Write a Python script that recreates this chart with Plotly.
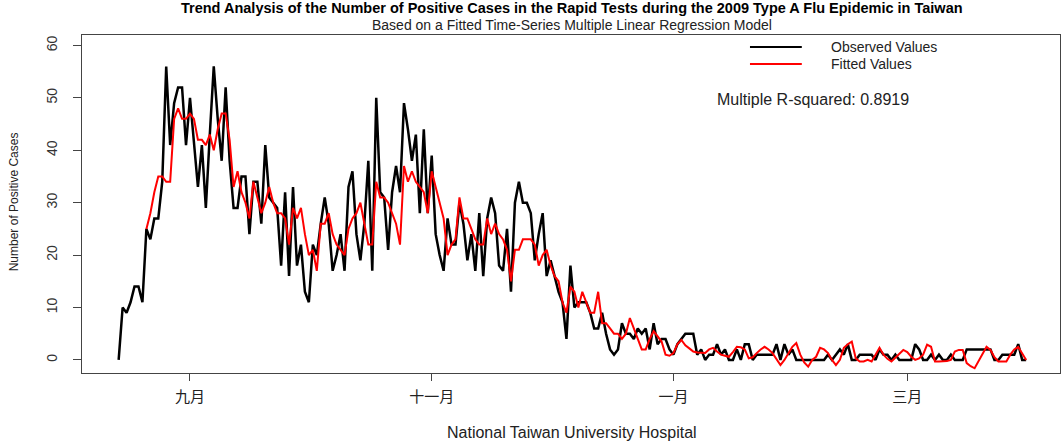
import pandas as pd
import plotly.graph_objects as go

start_date = "2009-08-14"
fitted_start_date = "2009-08-21"

observed = [
    0, 10, 9, 11, 14, 14, 11, 25, 23, 27,
    27, 34, 56, 41, 49, 52, 52, 41, 50, 42,
    33, 41, 29, 43, 56, 46, 38, 52, 38, 29,
    29, 35, 35, 24, 34, 34, 26, 41, 31, 30,
    29, 18, 32, 16, 33, 18, 22, 13, 11, 22,
    20, 26, 31, 26, 17, 20, 24, 17, 33, 36,
    24, 19, 26, 38, 17, 50, 32, 31, 21, 32,
    37, 32, 49, 44, 38, 43, 28, 44, 28, 39,
    24, 20, 17, 27, 22, 22, 30, 26, 19, 24,
    17, 28, 16, 27, 31, 28, 18, 17, 25, 13,
    30, 34, 30, 30, 28, 19, 24, 28, 16, 19,
    16, 13, 11, 4, 18, 10, 11, 11, 11, 9,
    6, 6, 9, 5, 2, 1, 2, 7, 5, 5,
    4, 6, 5, 6, 2, 7, 3, 4, 4, 2,
    1, 3, 4, 5, 5, 5, 1, 2, 0, 1,
    1, 3, 1, 2, 0, 0, 2, 0, 3, 3,
    0, 1, 1, 1, 1, 1, 3, 0, 3, 1,
    2, 0, 0, 0, 0, 0, 0, 0, 0, 1,
    0, 1, 2, 1, 3, 0, 0, 1, 1, 1,
    1, 0, 2, 1, 1, 0, 1, 0, 0, 0,
    0, 3, 2, 0, 0, 1, 0, 1, 0, 0,
    1, 0, 0, 0, 2, 2, 2, 2, 2, 2,
    2, 0, 0, 1, 1, 1, 1, 3, 0, 0,
]

fitted = [
    25, 28, 32, 35, 35, 34, 34, 46, 48, 46,
    46, 47, 46, 42, 42, 41, 43, 40, 44, 47,
    47, 42, 33, 36, 32, 30, 27, 34, 31, 28,
    30, 33, 30, 28, 28, 27, 22, 29, 27, 29,
    24, 20, 21, 17, 26, 26, 28, 24, 22, 21,
    20, 25, 27, 28, 30, 26, 22, 22, 34, 31,
    31, 30, 28, 26, 22, 37, 34, 36, 34, 33,
    32, 28, 36, 33, 30, 27, 20, 22, 23, 31,
    27, 27, 25, 23, 22, 22, 27, 24, 26, 24,
    23, 21, 15, 21, 21, 23, 23, 23, 22, 18,
    20, 21, 18, 16, 15, 11, 9, 14, 13, 10,
    13, 11, 9, 9, 13, 7, 7, 6, 5, 5,
    4, 5, 8, 6, 4, 2, 2, 4, 5.5, 4.5,
    3.5, 1, 0.8, 1.3, 3, 3.8, 2.8, 2.2, 1.6, 1.4,
    1.3, 1.3, 2, 2.3, 1.6, 1, 0.8, 0.6, 1.5, 2.5,
    2.4, 2, 0.3, 0.5, 1.3, 2, 2.5, 2, 1.3, 0.2,
    -1, 0, 1.3, 2.5, 3.2, 1, -0.5, -1.3, 0, 0.6,
    2.3, 2, 1.3, 0, -1, 0, 2.3, 3, 3.5, 0.3,
    -0.3, -0.3, 0, -0.3, 1, 2.3, 1, 0.2, -0.3, 0.5,
    1.3, 1.9, 1.5, 0.6, 0, 0.3, 1, 2.9, 2.5, -0.3,
    -0.3, -0.3, -0.2, 0, 1.6, 1.9, 1.9, -0.6, -1.2, -1.6,
    -0.3, 1, 2.5, 1.9, 0.5, -0.3, -0.3, -0.3, 1, 2,
    2.5, 1.3, 0,
]

series_names = ["Observed Values", "Fitted Values"]
series_colors = ["black", "red"]
tick_dates = ["2009-09-01", "2009-11-01", "2010-01-01", "2010-03-01"]
tick_labels = ["九月", "十一月", "一月", "三月"]
y_ticks = [0, 10, 20, 30, 40, 50, 60]

obs_dates = pd.date_range(start_date, periods=len(observed), freq="D")
fit_dates = pd.date_range(fitted_start_date, periods=len(fitted), freq="D")

FONT = "Liberation Sans, Arial, sans-serif"
CJK = "Noto Sans CJK TC, Noto Sans CJK SC, sans-serif"
AX = "#444444"
TXT = "#222222"

fig = go.Figure()
fig.add_trace(go.Scatter(x=obs_dates, y=observed, mode="lines", name=series_names[0],
                         line=dict(color=series_colors[0], width=2.5), showlegend=False))
fig.add_trace(go.Scatter(x=fit_dates, y=fitted, mode="lines", name=series_names[1],
                         line=dict(color=series_colors[1], width=2), showlegend=False))

fig.update_layout(
    width=1062, height=442,
    margin=dict(l=82, r=2, t=35, b=69),
    paper_bgcolor="white", plot_bgcolor="white",
    font=dict(family=FONT, size=13, color=TXT),
    showlegend=False,
)

fig.update_xaxes(
    type="date",
    range=["2009-08-04 18:00", "2010-04-08 13:00"],
    tickvals=tick_dates, ticktext=tick_labels,
    tickfont=dict(family=CJK, size=15, color=TXT),
    ticks="outside", ticklen=7, tickcolor=AX, tickwidth=1,
    ticklabelstandoff=3,
    showline=True, linecolor=AX, linewidth=1.3, mirror=True,
    showgrid=False, zeroline=False,
)
fig.update_yaxes(
    range=[-2.5, 62.0],
    tickvals=y_ticks, ticktext=[str(v) for v in y_ticks],
    tickangle=-90,
    tickfont=dict(family=FONT, size=14, color="#333333"),
    ticks="outside", ticklen=8, tickcolor=AX, tickwidth=1,
    ticklabelstandoff=10,
    showline=True, linecolor=AX, linewidth=1.3, mirror=True,
    showgrid=False, zeroline=False,
)

# titles
fig.add_annotation(text="<b>Trend Analysis of the Number of Positive Cases in the Rapid Tests during the 2009 Type A Flu Epidemic in Taiwan</b>",
                   xref="paper", yref="paper", x=0.501, y=1, yshift=27, xanchor="center", yanchor="middle",
                   showarrow=False, borderpad=0, font=dict(family=FONT, size=14.5, color="black"))
fig.add_annotation(text="Based on a Fitted Time-Series Multiple Linear Regression Model",
                   xref="paper", yref="paper", x=0.501, y=1, yshift=10.5, xanchor="center", yanchor="middle",
                   showarrow=False, borderpad=0, font=dict(family=FONT, size=14, color=TXT))
fig.add_annotation(text="National Taiwan University Hospital",
                   xref="paper", yref="paper", x=0.501, y=0, yshift=-59, xanchor="center", yanchor="middle",
                   showarrow=False, font=dict(family=FONT, size=16, color=TXT))
fig.add_annotation(text="Number of Positive Cases", textangle=-90,
                   xref="paper", yref="paper", x=0, xshift=-68, y=0.505, xanchor="center", yanchor="middle",
                   showarrow=False, font=dict(family=FONT, size=12, color=TXT))

# legend (inside the plot area, no box)
leg_x0, leg_x1, leg_tx = 0.683, 0.736, 0.765
leg_y = [0.9645, 0.9142]
for name, color, yy in zip(series_names, series_colors, leg_y):
    fig.add_shape(type="line", xref="paper", yref="paper", x0=leg_x0, x1=leg_x1, y0=yy, y1=yy,
                  line=dict(color=color, width=2))
    fig.add_annotation(text=name, xref="paper", yref="paper", x=leg_tx, y=yy,
                       xanchor="left", yanchor="middle", showarrow=False, borderpad=0,
                       font=dict(family=FONT, size=14, color=TXT))

fig.add_annotation(text="Multiple R-squared: 0.8919",
                   xref="paper", yref="paper", x=0.647, y=0.8077, xanchor="left", yanchor="middle",
                   showarrow=False, font=dict(family=FONT, size=16, color=TXT))

fig.write_html("out.html")
